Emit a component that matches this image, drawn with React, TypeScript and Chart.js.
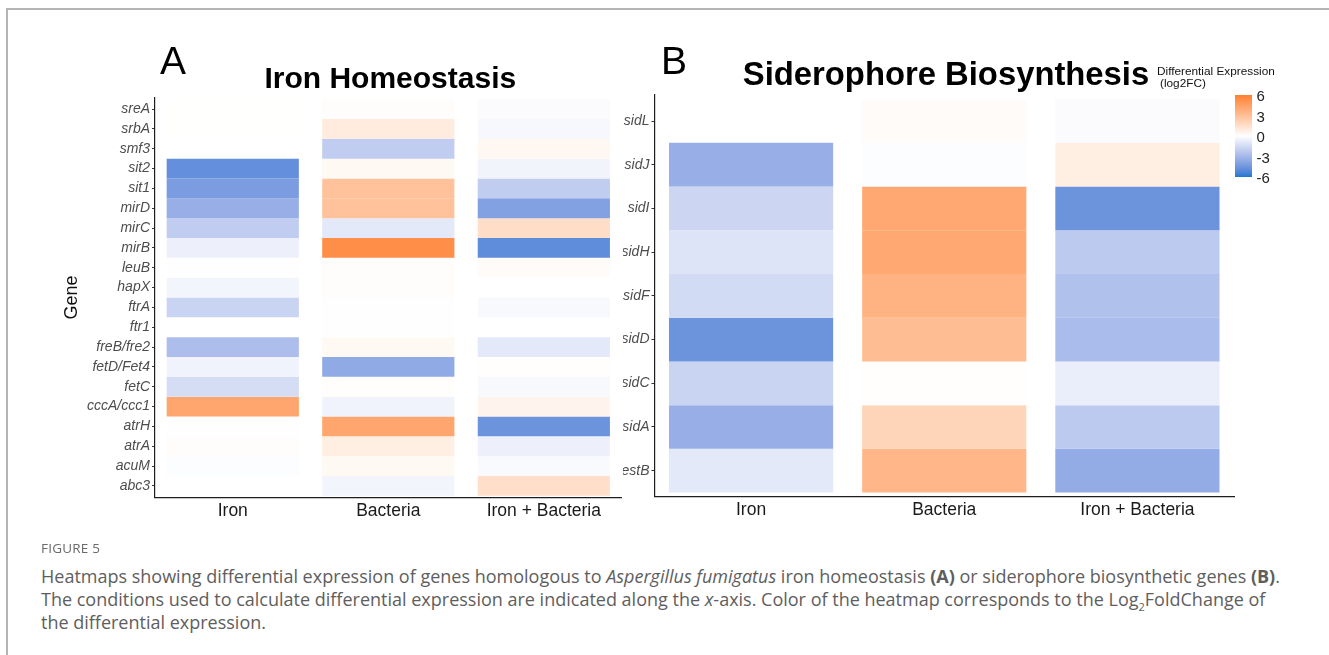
import React, { useEffect, useRef } from 'react';
import { Chart, registerables } from 'chart.js';
Chart.register(...registerables);

// ---------------- data ----------------
const conditions = ['Iron', 'Bacteria', 'Iron + Bacteria'];

const genesA = ['sreA', 'srbA', 'smf3', 'sit2', 'sit1', 'mirD', 'mirC', 'mirB', 'leuB', 'hapX', 'ftrA', 'ftr1', 'freB/fre2', 'fetD/Fet4', 'fetC', 'cccA/ccc1', 'atrH', 'atrA', 'acuM', 'abc3'];
const ironA = [0.02, 0.02, null, -4.8, -4.2, -3.4, -2.1, -0.6, 0.03, -0.4, -1.8, null, -2.7, -0.5, -1.4, 4.2, 0.03, 0.1, -0.1, null];
const bacteriaA = [0.1, 0.9, -2.1, 0.3, 2.9, 2.9, -0.9, 5.3, 0.1, 0.1, -0.05, 0.03, 0.3, -3.6, 0.05, -0.5, 4.2, 0.8, 0.3, -0.4];
const ironBacteriaA = [-0.15, -0.3, 0.35, -0.45, -2.1, -4.0, 1.6, -4.9, 0.2, null, -0.25, null, -0.9, 0.05, -0.25, 0.5, -4.6, -0.6, -0.2, 1.5];

const genesB = ['sidL', 'sidJ', 'sidI', 'sidH', 'sidF', 'sidD', 'sidC', 'sidA', 'estB'];
const ironB = [null, -3.4, -1.7, -1.1, -1.5, -4.6, -1.8, -3.4, -0.9];
const bacteriaB = [0.2, -0.1, 4.1, 4.1, 3.6, 3.1, 0.05, 2.0, 3.4];
const ironBacteriaB = [-0.15, 0.8, -4.6, -2.2, -2.6, -2.8, -0.7, -2.2, -3.5];

const legendTicks = [6, 3, 0, -3, -6];
const LIMIT = 6;
const LOW = '#2176D2';
const HIGH = '#FF7F2E';

// ---------------- colour scale (Lab interpolation, like ggplot gradient2) ----------------
function hexToRgb(hex: string): number[] {
  const n = parseInt(hex.slice(1), 16);
  return [(n >> 16) & 255, (n >> 8) & 255, n & 255];
}
const toLin = (c: number) => { c /= 255; return c <= 0.04045 ? c / 12.92 : Math.pow((c + 0.055) / 1.055, 2.4); };
const fromLin = (c: number) => {
  const v = c <= 0.0031308 ? 12.92 * c : 1.055 * Math.pow(Math.max(c, 0), 1 / 2.4) - 0.055;
  return Math.round(Math.min(1, Math.max(0, v)) * 255);
};
const Xn = 0.95047, Zn = 1.08883;
function rgbToLab(rgb: number[]): number[] {
  const [r, g, b] = rgb.map(toLin);
  const x = (0.4124564 * r + 0.3575761 * g + 0.1804375 * b) / Xn;
  const y = 0.2126729 * r + 0.7151522 * g + 0.072175 * b;
  const z = (0.0193339 * r + 0.119192 * g + 0.9503041 * b) / Zn;
  const f = (t: number) => (t > 216 / 24389 ? Math.cbrt(t) : ((24389 / 27) * t + 16) / 116);
  const fx = f(x), fy = f(y), fz = f(z);
  return [116 * fy - 16, 500 * (fx - fy), 200 * (fy - fz)];
}
function labToRgb(lab: number[]): number[] {
  const [L, a, b] = lab;
  const fy = (L + 16) / 116, fx = fy + a / 500, fz = fy - b / 200;
  const finv = (t: number) => (t * t * t > 216 / 24389 ? t * t * t : (116 * t - 16) / (24389 / 27));
  const x = finv(fx) * Xn, y = finv(fy), z = finv(fz) * Zn;
  const r = 3.2404542 * x - 1.5371385 * y - 0.4985314 * z;
  const g = -0.969266 * x + 1.8760108 * y + 0.041556 * z;
  const bb = 0.0556434 * x - 0.2040259 * y + 1.0572252 * z;
  return [fromLin(r), fromLin(g), fromLin(bb)];
}
const labWhite = rgbToLab([255, 255, 255]);
const labLow = rgbToLab(hexToRgb(LOW));
const labHigh = rgbToLab(hexToRgb(HIGH));
function fillColor(v: number): string {
  const t = Math.max(-1, Math.min(1, v / LIMIT));
  const end = t < 0 ? labLow : labHigh;
  const k = Math.abs(t);
  const lab = labWhite.map((w, i) => w + (end[i] - w) * k);
  const [r, g, b] = labToRgb(lab);
  return `rgb(${r},${g},${b})`;
}

const FONT = '"Liberation Sans", Arial, Helvetica, sans-serif';
const CAPTION_FONT = '"Open Sans", "Noto Sans", Lato, sans-serif';

type PanelProps = {
  genes: string[];
  series: (number | null)[][];
  left: number; top: number; width: number; height: number;
  yWidth: number; xHeight: number; padTop: number; padRight: number;
  yTitle?: string;
};

function HeatPanel(p: PanelProps) {
  const ref = useRef<HTMLCanvasElement>(null);
  useEffect(() => {
    if (!ref.current) return;
    const n = p.genes.length;
    const datasets = p.genes.map((g, i) => ({
      label: g,
      data: p.series.map((s) => (s[i] === null ? null : [i, i + 1])),
      backgroundColor: p.series.map((s) => (s[i] === null ? 'rgba(0,0,0,0)' : fillColor(s[i] as number))),
      borderWidth: 0,
      borderSkipped: false,
      grouped: false,
      barPercentage: 0.85,
      categoryPercentage: 1,
    }));
    const chart = new Chart(ref.current, {
      type: 'bar',
      data: { labels: conditions, datasets: datasets as any },
      options: {
        animation: false,
        responsive: false,
        devicePixelRatio: 1,
        events: [],
        layout: { padding: { top: p.padTop, right: p.padRight, left: 0, bottom: 0 } },
        plugins: { legend: { display: false }, tooltip: { enabled: false }, title: { display: false } },
        scales: {
          x: {
            type: 'category',
            offset: true,
            grid: { display: false, drawTicks: false },
            border: { display: true, color: '#1e1e1e', width: 1.2 },
            ticks: { color: '#1a1a1a', font: { family: FONT, size: 17.5 }, padding: 3, maxRotation: 0, autoSkip: false },
            afterFit: (s: any) => { s.height = p.xHeight; },
          },
          y: {
            type: 'linear',
            reverse: true,
            min: -0.095,
            max: n + 0.095,
            afterBuildTicks: (s: any) => { s.ticks = p.genes.map((_, i) => ({ value: i + 0.5 })); },
            ticks: {
              autoSkip: false,
              callback: (_v: any, idx: number) => p.genes[idx],
              color: '#4d4d4d',
              font: { family: FONT, size: 14, style: 'italic' },
              padding: 2,
            },
            grid: { display: true, drawOnChartArea: false, drawTicks: true, tickLength: 3, color: '#333333', lineWidth: 1 },
            border: { display: true, color: '#1e1e1e', width: 1.2 },
            title: p.yTitle
              ? { display: true, text: p.yTitle, color: '#111', font: { family: FONT, size: 18 }, padding: { top: 51.5, bottom: 0 } }
              : { display: false },
            afterFit: (s: any) => { s.width = p.yWidth; },
          },
        },
      },
    } as any);
    return () => chart.destroy();
  }, []);
  return (
    <canvas
      ref={ref}
      width={p.width}
      height={p.height}
      style={{ position: 'absolute', left: p.left, top: p.top, width: p.width, height: p.height }}
    />
  );
}

// baseline helper: for line-height = font size, baseline sits at 0.8465em below the top
const topFor = (baseline: number, size: number) => baseline - 0.8465 * size;

export default function App() {
  const barTop = 95.3, barH = 82;
  const stops = Array.from({ length: 25 }, (_, i) => {
    const v = LIMIT - (i * 2 * LIMIT) / 24;
    return `${fillColor(v)} ${(i / 24) * 100}%`;
  }).join(', ');
  return (
    <div style={{ position: 'absolute', left: 0, top: 0, width: 1329, height: 655, overflow: 'hidden', background: '#fff', fontFamily: FONT }}>
      {/* frame */}
      <div style={{ position: 'absolute', left: 6, top: 8, width: 1340, height: 700, borderTop: '2px solid #b4b4b4', borderLeft: '2px solid #b4b4b4' }} />

      <HeatPanel genes={genesA} series={[ironA, bacteriaA, ironBacteriaA]}
        left={10} top={40} width={613} height={500}
        yWidth={145} xHeight={42.3} padTop={57.3} padRight={1.4} yTitle="Gene" />
      <HeatPanel genes={genesB} series={[ironB, bacteriaB, ironBacteriaB]}
        left={623} top={40} width={706} height={500}
        yWidth={31.5} xHeight={43.3} padTop={55} padRight={95} />

      {/* panel letters and titles */}
      <div style={{ position: 'absolute', left: 160, top: topFor(74, 39), fontSize: 39, lineHeight: '39px', color: '#000' }}>A</div>
      <div style={{ position: 'absolute', left: 190.3, width: 400, textAlign: 'center', top: topFor(88.3, 30), fontSize: 30, lineHeight: '30px', fontWeight: 'bold', color: '#000' }}>Iron Homeostasis</div>
      <div style={{ position: 'absolute', left: 661, top: topFor(74, 39), fontSize: 39, lineHeight: '39px', color: '#000' }}>B</div>
      <div style={{ position: 'absolute', left: 696, width: 500, textAlign: 'center', top: topFor(85.5, 32.8), fontSize: 32.8, lineHeight: '32.8px', fontWeight: 'bold', color: '#000', whiteSpace: 'nowrap' }}>Siderophore Biosynthesis</div>

      {/* colour legend */}
      <div style={{ position: 'absolute', left: 1157, top: topFor(76, 11.8), fontSize: 11.8, lineHeight: '11.8px', color: '#111', whiteSpace: 'nowrap' }}>Differential Expression</div>
      <div style={{ position: 'absolute', left: 1160, top: topFor(87.5, 11.8), fontSize: 11.8, lineHeight: '11.8px', color: '#111', whiteSpace: 'nowrap' }}>(log2FC)</div>
      <div style={{ position: 'absolute', left: 1235, top: barTop, width: 16.5, height: barH, background: `linear-gradient(to bottom, ${stops})` }} />
      {legendTicks.map((t) => (
        <div key={t} style={{ position: 'absolute', left: 1256.5, top: barTop + ((LIMIT - t) / (2 * LIMIT)) * barH - 7.3, fontSize: 15, lineHeight: '15px', color: '#222' }}>{t}</div>
      ))}

      {/* caption */}
      <div style={{ position: 'absolute', left: 41, top: 541, fontFamily: CAPTION_FONT, fontSize: 13.5, lineHeight: '14px', color: '#6a6a6a', letterSpacing: 0.2 }}>FIGURE 5</div>
      <div style={{ position: 'absolute', left: 41, top: 565, width: 1288, fontFamily: CAPTION_FONT, fontSize: 18, lineHeight: '23px', color: '#5e5e5e', whiteSpace: 'nowrap' }}>
        Heatmaps showing differential expression of genes homologous to <i>Aspergillus fumigatus</i> iron homeostasis <b>(A)</b> or siderophore biosynthetic genes <b>(B)</b>.<br />
        The conditions used to calculate differential expression are indicated along the <i>x</i>-axis. Color of the heatmap corresponds to the Log<sub style={{ fontSize: 11, lineHeight: 0 }}>2</sub>FoldChange of<br />
        the differential expression.
      </div>
    </div>
  );
}
